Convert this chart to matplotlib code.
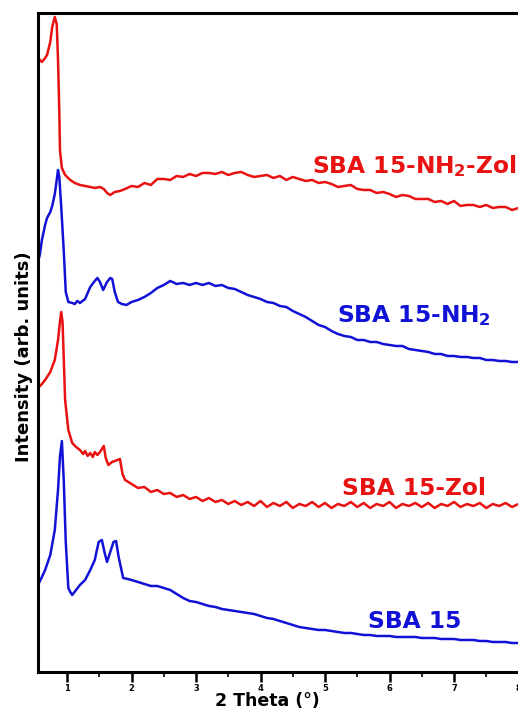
import matplotlib
matplotlib.use("Agg")
import matplotlib.pyplot as plt
from matplotlib.ticker import MultipleLocator

plt.rcParams['mathtext.default'] = 'bf'

# Data (2 Theta in degrees, intensity in arb. units, curves already stacked)
# common scan grid for the flat tails (2-8.2 deg)
tt_tail = [2.0, 2.1, 2.2, 2.3, 2.4, 2.5, 2.6, 2.7, 2.8, 2.9, 3.0, 3.1, 3.2, 3.3, 3.4, 3.5,
           3.6, 3.7, 3.8, 3.9, 4.0, 4.1, 4.2, 4.3, 4.4, 4.5, 4.6, 4.7, 4.8, 4.9, 5.0, 5.1,
           5.2, 5.3, 5.4, 5.5, 5.6, 5.7, 5.8, 5.9, 6.0, 6.1, 6.2, 6.3, 6.4, 6.5, 6.6, 6.7,
           6.8, 6.9, 7.0, 7.1, 7.2, 7.3, 7.4, 7.5, 7.6, 7.7, 7.8, 7.9, 8.0, 8.1, 8.2]

# SBA 15-NH2-Zol
tt_nh2_zol = [0.55, 0.58, 0.61, 0.66, 0.69, 0.74, 0.77, 0.81, 0.84, 0.86, 0.88, 0.89, 0.92, 0.97,
              1.05, 1.12, 1.20, 1.28, 1.36, 1.43, 1.51, 1.57, 1.62, 1.67, 1.74, 1.82, 1.90]
int_nh2_zol = [614, 612, 610, 614, 617, 630, 645, 655, 648, 612, 560, 522, 504, 497,
               492, 489, 487, 486, 485, 484, 485, 483, 479, 477, 480, 481, 483]
int_nh2_zol_tail = [486, 485, 489, 487, 493, 493, 492, 496, 495, 498, 496, 499, 499, 498, 500, 497,
                    499, 500, 497, 495, 496, 497, 494, 496, 492, 495, 493, 491, 492, 489, 490, 488,
                    485, 486, 487, 483, 482, 482, 479, 480, 478, 475, 477, 476, 473, 473, 473, 470,
                    471, 468, 471, 466, 467, 467, 465, 467, 464, 465, 465, 462, 464, 461, 463]

# SBA 15-NH2
tt_nh2 = [0.55, 0.58, 0.61, 0.66, 0.69, 0.74, 0.77, 0.81, 0.84, 0.86, 0.88, 0.91, 0.95, 0.98,
          1.02, 1.08, 1.12, 1.16, 1.20, 1.28, 1.36, 1.43, 1.47, 1.51, 1.56, 1.62, 1.67, 1.70,
          1.74, 1.79, 1.85, 1.92]
int_nh2 = [410, 418, 432, 447, 454, 460, 466, 478, 492, 502, 495, 465, 420, 380,
           370, 369, 368, 371, 369, 373, 385, 391, 394, 390, 382, 390, 394, 393,
           380, 370, 368, 367]
int_nh2_tail = [370, 372, 375, 379, 384, 387, 391, 388, 389, 387, 389, 387, 389, 386, 387, 384,
                383, 380, 377, 375, 373, 370, 369, 366, 365, 361, 358, 355, 351, 347, 345, 341,
                338, 336, 335, 332, 332, 330, 330, 328, 327, 326, 326, 323, 322, 321, 320, 318,
                318, 316, 316, 315, 315, 314, 314, 312, 312, 311, 311, 310, 310, 309, 309]

# SBA 15-Zol
tt_zol = [0.55, 0.61, 0.66, 0.74, 0.81, 0.86, 0.89, 0.91, 0.93, 0.95, 0.97, 1.02, 1.08, 1.14,
          1.20, 1.25, 1.28, 1.32, 1.36, 1.40, 1.43, 1.47, 1.51, 1.57, 1.60, 1.64, 1.70, 1.78,
          1.82, 1.86, 1.90, 1.95]
int_zol = [284, 288, 292, 300, 312, 332, 350, 360, 350, 312, 272, 242, 229, 225,
           222, 218, 221, 216, 219, 215, 220, 217, 220, 226, 214, 207, 210, 212,
           213, 198, 192, 190]
int_zol_tail = [188, 184, 185, 180, 182, 178, 179, 175, 177, 173, 175, 171, 174, 170, 172, 168,
                171, 167, 170, 166, 171, 165, 169, 166, 170, 164, 168, 166, 170, 165, 169, 164,
                168, 166, 170, 165, 169, 164, 168, 166, 170, 164, 168, 166, 169, 165, 169, 164,
                168, 166, 170, 165, 168, 166, 169, 164, 168, 166, 169, 165, 168, 166, 168]

# SBA 15
tt_sba = [0.55, 0.61, 0.66, 0.74, 0.81, 0.86, 0.89, 0.92, 0.95, 0.98, 1.02, 1.05, 1.08, 1.14,
          1.20, 1.28, 1.36, 1.43, 1.49, 1.54, 1.58, 1.62, 1.66, 1.72, 1.76, 1.80, 1.87, 1.94]
int_sba = [87, 95, 102, 117, 142, 182, 215, 231, 190, 130, 84, 80, 77, 82,
           87, 92, 102, 112, 130, 132, 120, 110, 118, 130, 131, 115, 94, 93]
int_sba_tail = [92, 90, 88, 86, 86, 84, 82, 78, 74, 71, 70, 68, 66, 65, 63, 62,
                61, 60, 59, 58, 56, 54, 53, 51, 49, 47, 45, 44, 43, 42, 42, 41,
                40, 39, 39, 38, 37, 37, 36, 36, 36, 35, 35, 35, 35, 34, 34, 34,
                33, 33, 33, 32, 32, 32, 31, 31, 30, 30, 30, 29, 29, 28, 28]

red = '#e81212'
blue = '#1212d6'

fig = plt.figure(figsize=(5.18, 7.09), dpi=100)
ax = fig.add_axes([0.0734, 0.0522, 0.950, 0.9295])

ax.plot(tt_nh2_zol + tt_tail, int_nh2_zol + int_nh2_zol_tail, color=red, lw=1.8)
ax.plot(tt_nh2 + tt_tail, int_nh2 + int_nh2_tail, color=blue, lw=1.8)
ax.plot(tt_zol + tt_tail, int_zol + int_zol_tail, color=red, lw=1.8)
ax.plot(tt_sba + tt_tail, int_sba + int_sba_tail, color=blue, lw=1.8)

lbl = dict(fontsize=16.8, fontweight='bold')
ax.text(7.97, 499, 'SBA 15-NH$_2$-Zol', color=red, ha='right', va='baseline', **lbl)
ax.text(5.19, 350, 'SBA 15-NH$_2$', color=blue, ha='left', va='baseline', **lbl)
ax.text(5.26, 177, 'SBA 15-Zol', color=red, ha='left', va='baseline', **lbl)
ax.text(5.67, 44, 'SBA 15', color=blue, ha='left', va='baseline', **lbl)

ax.set_xlim(0.55, 8.18)
ax.set_ylim(0, 659)
ax.xaxis.set_major_locator(MultipleLocator(1))
ax.xaxis.set_minor_locator(MultipleLocator(0.5))
ax.set_yticks([])
ax.tick_params(axis='x', which='major', direction='out', length=7, width=1.8,
               labelsize=6, pad=1.5)
ax.tick_params(axis='x', which='minor', direction='out', length=3.5, width=1.2)
for lab in ax.get_xticklabels():
    lab.set_fontweight('bold')
for side in ['left', 'bottom', 'top', 'right']:
    ax.spines[side].set_linewidth(2.2)

ax.set_xlabel('2 Theta (°)', fontsize=12.5, fontweight='bold', labelpad=0)
ax.xaxis.set_label_coords(0.466, -0.031)
ax.set_ylabel('Intensity (arb. units)', fontsize=13, fontweight='bold')
ax.yaxis.set_label_coords(-0.010, 0.478)

fig.savefig('out.png', dpi=100)
